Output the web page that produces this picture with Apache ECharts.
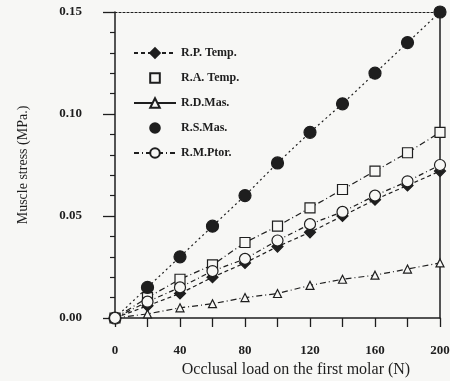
<!DOCTYPE html>
<html><head><meta charset="utf-8">
<script src="https://cdn.jsdelivr.net/npm/echarts@6/dist/echarts.min.js"></script>
<style>html,body{margin:0;padding:0;background:#f7f7f5}#c{width:450px;height:381px}</style>
</head><body><div id="c"></div>
<script>
const xs = [0, 20, 40, 60, 80, 100, 120, 140, 160, 180, 200];
const seriesNames = ['R.P. Temp.', 'R.A. Temp.', 'R.D.Mas.', 'R.S.Mas.', 'R.M.Ptor.'];
const rpTemp = [0, 0.006, 0.012, 0.020, 0.027, 0.035, 0.042, 0.050, 0.058, 0.065, 0.072];
const raTemp = [0, 0.010, 0.019, 0.026, 0.037, 0.045, 0.054, 0.063, 0.072, 0.081, 0.091];
const rdMas  = [0, 0.002, 0.005, 0.007, 0.010, 0.012, 0.016, 0.019, 0.021, 0.024, 0.027];
const rsMas  = [0, 0.015, 0.030, 0.045, 0.060, 0.076, 0.091, 0.105, 0.120, 0.135, 0.150];
const rmPtor = [0, 0.008, 0.015, 0.023, 0.029, 0.038, 0.046, 0.052, 0.060, 0.067, 0.075];
const xName = 'Occlusal load on the first molar (N)';
const yName = 'Muscle stress (MPa.)';

const ink = '#1e1e1e';
const bg = '#f7f7f5';
const font = 'Liberation Serif';
function pairs(v){ return xs.map((x,i)=>[x, v[i]]); }
function mk(name, vals, symbol, size, filled, dash){
  return {
    name, type:'line', data: pairs(vals), symbol, symbolSize:size, clip:false,
    itemStyle:{color: filled ? ink : bg, borderColor: ink, borderWidth:1.2},
    lineStyle:{color: ink, width:1.2, type: dash},
    emphasis:{disabled:true}
  };
}
const chart = echarts.init(document.getElementById('c'));
chart.setOption({
  animation:false,
  backgroundColor:bg,
  textStyle:{fontFamily:font, color:ink},
  grid:{left:115, right:10, top:12, bottom:63, outerBoundsMode:'none', containLabel:false},
  legend:{
    orient:'vertical', left:128, top:42, itemWidth:42, itemHeight:12, itemGap:13,
    textStyle:{fontFamily:font, fontSize:12, fontWeight:'bold', color:ink},
    data:[
      {name:seriesNames[0]},
      {name:seriesNames[1], lineStyle:{opacity:0}},
      {name:seriesNames[2], lineStyle:{type:'solid'}},
      {name:seriesNames[3], lineStyle:{opacity:0}},
      {name:seriesNames[4]}
    ]
  },
  xAxis:[{
    type:'value', min:0, max:200, interval:40,
    name:xName, nameLocation:'middle', nameGap:44,
    nameTextStyle:{fontFamily:font, fontSize:16, color:ink, padding:[0,0,0,37]},
    axisLine:{lineStyle:{color:ink, width:1.5}},
    axisTick:{inside:false, length:9, lineStyle:{color:ink, width:1.3}},
    minorTick:{show:true, splitNumber:2, length:9, lineStyle:{color:ink, width:1.3}},
    axisLabel:{fontFamily:font, fontSize:13, fontWeight:'bold', color:ink, margin:26},
    splitLine:{show:false}
  },{
    type:'value', min:0, max:200, position:'top',
    axisLine:{show:true, onZero:false, lineStyle:{color:ink, width:1.2, type:[2,2]}},
    axisTick:{show:false}, axisLabel:{show:false}, splitLine:{show:false}
  }],
  yAxis:[{
    type:'value', min:0, max:0.15, interval:0.05,
    name:yName, nameLocation:'middle', nameGap:85, nameRotate:90,
    nameTextStyle:{fontFamily:font, fontSize:14, color:ink},
    axisLine:{lineStyle:{color:ink, width:1.5}},
    axisTick:{inside:false, length:12, lineStyle:{color:ink, width:1.3}},
    minorTick:{show:true, splitNumber:5, length:5, lineStyle:{color:ink, width:1.2}},
    axisLabel:{fontFamily:font, fontSize:13, fontWeight:'bold', color:ink, margin:33,
      formatter:v=>v.toFixed(2)},
    splitLine:{show:false}
  },{
    type:'value', min:0, max:0.15, position:'right',
    axisLine:{show:true, onZero:false, lineStyle:{color:ink, width:1.5}},
    axisTick:{show:false}, axisLabel:{show:false}, splitLine:{show:false}
  }],
  series:[
    mk(seriesNames[0], rpTemp, 'diamond', 11, true, [4,3]),
    mk(seriesNames[1], raTemp, 'rect', 10, false, [6,3,1,3]),
    mk(seriesNames[2], rdMas, 'triangle', 8, false, [6,3,1,3]),
    mk(seriesNames[3], rsMas, 'circle', 12, true, [2,3]),
    mk(seriesNames[4], rmPtor, 'circle', 11, false, [5,3,1,3])
  ]
});
</script></body></html>
